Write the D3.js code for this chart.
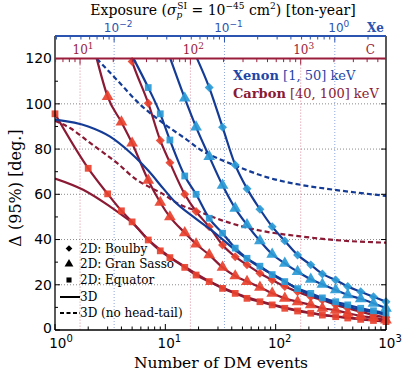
<!DOCTYPE html>
<html>
<head>
<meta charset="utf-8">
<script src="https://cdn.jsdelivr.net/npm/d3@7"></script>
<style>
  body { margin: 0; background: #fff; }
  text { font-family: "DejaVu Serif", serif; }
  .sans { font-family: "DejaVu Sans", sans-serif; }
</style>
</head>
<body>
<div id="chart"></div>
<script>
// marker positions (number of DM events) and read-off angles
const xeBoulbyN   = [19.4, 25, 33, 43, 55, 72, 93, 121, 158, 208, 265, 350, 450, 590, 770, 1000];
const xeBoulbyDeg = [120, 107.2, 89.7, 73, 62.5, 53.4, 45.7, 39.4, 33.2, 28.8, 24.8, 22.1, 19.2, 16.9, 14.7, 12.5];
const xeGranN     = [11.1, 15, 19, 25, 33, 43, 55, 72, 93, 121, 158, 208, 265, 350, 450, 590, 770, 1000];
const xeGranDeg   = [120, 102.5, 89.7, 76.7, 64, 53.8, 46.5, 39.4, 33.5, 29.5, 25.8, 22.4, 20.2, 17.7, 15.5, 13.8, 11.8, 9.6];
const xeEquN      = [5.15, 7, 9, 11, 15, 19, 25, 33, 43, 55, 72, 93, 121, 158, 208, 265, 350, 450, 590, 770, 1000];
const xeEquDeg    = [120, 107.2, 95.6, 84, 68.1, 60, 49.4, 42.8, 36.2, 31.7, 28.2, 24.5, 21.4, 18.3, 16.2, 14.2, 12.5, 11.1, 9.6, 8.5, 7.5];
const xe3dN       = [1, 2, 3.16, 4.8, 6, 7, 9.6, 12, 18, 25.6, 48, 73, 104, 168, 265, 450, 1000];
const xe3dDeg     = [93, 90, 85.5, 78.5, 74, 70.5, 62.5, 57, 50, 44.5, 33.5, 27.5, 23.5, 17.5, 13.6, 10.3, 6.8];
const xeNoHtN     = [2.39, 3.64, 5.94, 9.6, 15.7, 20.9, 25.6, 41.6, 84, 168, 340, 1000];
const xeNoHtDeg   = [120, 110.6, 99.6, 91.4, 84.1, 79.6, 77.4, 73, 67.5, 64.2, 62, 59.3];

const cBoulbyN    = [4.9, 5, 7, 9, 11, 15, 19, 25, 33, 43, 55, 72, 93, 121, 158, 208, 265, 350, 450, 590, 770, 1000];
const cBoulbyDeg  = [120, 118.7, 100.3, 83.8, 74, 60, 52.4, 45.6, 37.6, 32.4, 28.8, 25.1, 22.1, 19.2, 16.9, 14.7, 13.3, 11.1, 9.6, 8.1, 6.6, 5.6];
const cGranN      = [2.39, 3, 4, 5, 7, 9, 11, 15, 19, 25, 33, 43, 55, 72, 93, 121, 158, 208, 265, 350, 450, 590, 770, 1000];
const cGranDeg    = [120, 103.2, 91.9, 82.6, 66.2, 56.4, 50, 43, 38, 33.2, 27.7, 23.9, 21.4, 18.9, 16.2, 14, 12.5, 11.1, 9.6, 8.8, 7.4, 6.2, 5.5, 4.4];
const cEquN       = [1, 2, 3, 4, 5, 7, 9, 11, 15, 19, 25, 33, 43, 55, 72, 93, 121, 158, 208, 265, 350, 450, 590, 770, 1000];
const cEquDeg     = [95.6, 71.5, 60.2, 52.7, 47.8, 39.8, 35, 32, 27.7, 24.3, 21.4, 18.4, 16.2, 14, 12.5, 11.1, 9.6, 8.4, 7.4, 6.6, 5.9, 5.3, 4.7, 4.2, 3.7];
const c3dN        = [1, 1.8, 3, 4, 5, 7, 11, 15, 25, 43, 72, 121, 208, 350, 590, 1000];
const c3dDeg      = [67, 62, 55.3, 51, 47.5, 40, 32.3, 28, 21.6, 16.4, 12.8, 9.9, 7.6, 6, 4.9, 4.1];
const cNoHtN      = [1, 1.37, 2.08, 3.64, 5.5, 7.3, 9, 13.7, 20, 31.6, 73.5, 168, 340, 1000];
const cNoHtDeg    = [92.5, 89.3, 82.7, 73.9, 66.4, 63, 60.8, 55.3, 52.4, 48.7, 43.9, 41.4, 39.8, 38.6];

const yTicks = [0, 20, 40, 60, 80, 100, 120];
const legendItems = ["2D: Boulby", "2D: Gran Sasso", "2D: Equator", "3D", "3D (no head-tail)"];

const W = 407, H = 382;
const mLeft = 55, mRight = 386, mTop = 36, mBottom = 330;

const xeLine = "#143c96", xeMark = "#2a9ad6";
const cLine = "#8b1a34", cMark = "#e8412e";
const xeText = "#2b53b0", cText = "#9a1d3c";

const svg = d3.select("#chart").append("svg")
  .attr("width", W).attr("height", H);

const x = d3.scaleLog().domain([1, 1000]).range([mLeft, mRight]);
const y = d3.scaleLinear().domain([0, 130]).range([mBottom, mTop]);

// exposure axes (ton-year) for xenon and carbon
const xeK = Math.pow(10, -2.536), cK = Math.pow(10, 0.773);
const xXe = d3.scaleLog().domain([xeK, 1000 * xeK]).range([mLeft, mRight]);
const xC  = d3.scaleLog().domain([cK, 1000 * cK]).range([mLeft, mRight]);

svg.append("defs").append("clipPath").attr("id", "clip")
  .append("rect").attr("x", mLeft).attr("y", y(120)).attr("width", mRight - mLeft).attr("height", mBottom - y(120));

// grid
const grid = svg.append("g");
grid.selectAll(".hg").data([20, 40, 60, 80, 100]).join("line")
  .attr("x1", mLeft).attr("x2", mRight)
  .attr("y1", d => y(d)).attr("y2", d => y(d))
  .attr("stroke", "#8a8a8a").attr("stroke-width", 1).attr("stroke-dasharray", "1,2");
grid.selectAll(".cg").data([10, 100, 1000]).join("line")
  .attr("x1", d => xC(d)).attr("x2", d => xC(d))
  .attr("y1", y(120)).attr("y2", mBottom)
  .attr("stroke", "#d88a9c").attr("stroke-width", 1).attr("stroke-dasharray", "1,2");
grid.selectAll(".xg").data([0.01, 0.1, 1]).join("line")
  .attr("x1", d => xXe(d)).attr("x2", d => xXe(d))
  .attr("y1", mTop).attr("y2", mBottom)
  .attr("stroke", "#8ea6dc").attr("stroke-width", 1).attr("stroke-dasharray", "1,2");

// series
const series = [
  { N: cNoHtN, deg: cNoHtDeg, line: cLine, dash: "5,3" },
  { N: c3dN, deg: c3dDeg, line: cLine },
  { N: cEquN, deg: cEquDeg, line: cLine, mark: cMark, sym: "square" },
  { N: cGranN, deg: cGranDeg, line: cLine, mark: cMark, sym: "triangle" },
  { N: cBoulbyN, deg: cBoulbyDeg, line: cLine, mark: cMark, sym: "diamond" },
  { N: xeNoHtN, deg: xeNoHtDeg, line: xeLine, dash: "5,3" },
  { N: xe3dN, deg: xe3dDeg, line: xeLine },
  { N: xeEquN, deg: xeEquDeg, line: xeLine, mark: xeMark, sym: "square" },
  { N: xeGranN, deg: xeGranDeg, line: xeLine, mark: xeMark, sym: "triangle" },
  { N: xeBoulbyN, deg: xeBoulbyDeg, line: xeLine, mark: xeMark, sym: "diamond" }
];

const symPath = {
  square: d3.symbol(d3.symbolSquare, 46)(),
  triangle: d3.symbol(d3.symbolTriangle, 60)(),
  diamond: d3.symbol(d3.symbolSquare, 40)()
};

const lineGen = d3.line()
  .x(d => x(d[0])).y(d => y(d[1]))
  .curve(d3.curveMonotoneX);

series.forEach(s => {
  const pts = s.N.map((n, i) => [n, s.deg[i]]);
  svg.append("path")
    .attr("clip-path", "url(#clip)")
    .attr("d", lineGen(pts))
    .attr("fill", "none")
    .attr("stroke", s.line)
    .attr("stroke-width", 2.2)
    .attr("stroke-dasharray", s.dash || null);
  if (s.sym) {
    svg.append("g").selectAll("path")
      .data(pts.filter(p => p[1] < 120))
      .join("path")
      .attr("d", symPath[s.sym])
      .attr("transform", d => `translate(${x(d[0])},${y(d[1])})` + (s.sym === "diamond" ? " rotate(45)" : ""))
      .attr("fill", s.mark)
      .attr("fill-opacity", 0.92);
  }
});

// frame
const frame = svg.append("g").attr("stroke", "#000").attr("stroke-width", 1.3);
frame.append("line").attr("x1", mLeft).attr("x2", mLeft).attr("y1", mTop).attr("y2", mBottom);
frame.append("line").attr("x1", mRight).attr("x2", mRight).attr("y1", mTop).attr("y2", mBottom);
frame.append("line").attr("x1", mLeft).attr("x2", mRight).attr("y1", mBottom).attr("y2", mBottom);

// y ticks
svg.append("g").selectAll("line").data(d3.range(0, 121, 10)).join("line")
  .attr("x1", mLeft).attr("x2", d => mLeft + (d % 20 === 0 ? 5 : 3))
  .attr("y1", d => y(d)).attr("y2", d => y(d))
  .attr("stroke", "#000");
svg.append("g").selectAll("line").data(yTicks).join("line")
  .attr("x1", mRight).attr("x2", mRight - 5)
  .attr("y1", d => y(d)).attr("y2", d => y(d))
  .attr("stroke", "#000");
svg.append("g").selectAll("text").data(yTicks).join("text")
  .attr("class", "sans")
  .attr("x", mLeft - 3).attr("y", d => y(d) - (d === 0 ? 2 : 0)).attr("dy", "0.34em")
  .attr("text-anchor", "end").attr("font-size", 14)
  .text(d => d);

// bottom axis
const minorTicks = (sc) => sc.ticks().filter(t => t >= sc.domain()[0] && t <= sc.domain()[1]);
svg.append("g").selectAll("line").data(minorTicks(x)).join("line")
  .attr("x1", d => x(d)).attr("x2", d => x(d))
  .attr("y1", mBottom).attr("y2", d => mBottom - (Math.abs(Math.log10(d) % 1) < 1e-6 ? 6 : 3.5))
  .attr("stroke", "#000");
const powLabel = (g, base, exp, size, supSize) => {
  g.append("tspan").text(base);
  g.append("tspan").attr("dy", -size * 0.42).attr("font-size", supSize).text(exp);
};
[1, 10, 100, 1000].forEach(v => {
  const t = svg.append("text").attr("class", "sans")
    .attr("x", x(v) + (v === 1 ? 6 : 4)).attr("y", 348).attr("text-anchor", "middle").attr("font-size", 13.5);
  powLabel(t, "10", Math.round(Math.log10(v)), 13.5, 10);
});

// top xenon axis
svg.append("line").attr("x1", mLeft).attr("x2", mRight).attr("y1", mTop).attr("y2", mTop)
  .attr("stroke", xeText).attr("stroke-width", 2);
svg.append("g").selectAll("line").data(minorTicks(xXe)).join("line")
  .attr("x1", d => xXe(d)).attr("x2", d => xXe(d))
  .attr("y1", mTop).attr("y2", d => mTop + ([0.01, 0.1, 1].some(v => Math.abs(v - d) < 1e-9) ? 6 : 3.5))
  .attr("stroke", xeText);
[[0.01, "\u22122"], [0.1, "\u22121"], [1, "0"]].forEach(([v, e]) => {
  const t = svg.append("text").attr("class", "sans").attr("fill", xeText)
    .attr("x", xXe(v) + 4).attr("y", 32).attr("text-anchor", "middle").attr("font-size", 12);
  powLabel(t, "10", e, 12, 9);
});
svg.append("text").attr("x", 384).attr("y", 32).attr("text-anchor", "end")
  .attr("font-size", 12).attr("font-weight", "bold").attr("fill", xeText).text("Xe");

// carbon axis on the 120 line
svg.append("line").attr("x1", mLeft).attr("x2", mRight).attr("y1", y(120)).attr("y2", y(120))
  .attr("stroke", cText).attr("stroke-width", 2);
svg.append("g").selectAll("line").data(minorTicks(xC)).join("line")
  .attr("x1", d => xC(d)).attr("x2", d => xC(d))
  .attr("y1", y(120)).attr("y2", d => y(120) + ([10, 100, 1000].some(v => Math.abs(v - d) < 1e-6) ? 6 : 3.5))
  .attr("stroke", cText);
[[10, "1"], [100, "2"], [1000, "3"]].forEach(([v, e]) => {
  const t = svg.append("text").attr("fill", cText)
    .attr("x", xC(v) + 3).attr("y", 54).attr("text-anchor", "middle").attr("font-size", 12);
  powLabel(t, "10", e, 12, 9);
});
svg.append("text").attr("x", 375).attr("y", 54).attr("text-anchor", "end")
  .attr("font-size", 12).attr("fill", cText).text("C");

// titles
const title = svg.append("text").attr("x", 223).attr("y", 15).attr("text-anchor", "middle").attr("font-size", 14);
title.append("tspan").text("Exposure (");
title.append("tspan").attr("font-style", "italic").text("\u03c3");
title.append("tspan").attr("font-size", 9).attr("font-style", "italic").attr("dy", 3).text("p");
title.append("tspan").attr("font-size", 9).attr("dy", -9).attr("dx", -5).text("SI");
title.append("tspan").attr("dy", 6).text(" = 10");
title.append("tspan").attr("font-size", 9).attr("dy", -6).text("\u221245");
title.append("tspan").attr("dy", 6).text(" cm");
title.append("tspan").attr("font-size", 9).attr("dy", -6).text("2");
title.append("tspan").attr("dy", 6).text(") [ton-year]");

svg.append("text").attr("x", 221).attr("y", 368).attr("text-anchor", "middle")
  .attr("font-size", 15.5).text("Number of DM events");
svg.append("text").attr("transform", "translate(21,188) rotate(-90)")
  .attr("text-anchor", "middle").attr("font-size", 16).text("\u0394 (95%) [deg.]");

// target legend
const lx = svg.append("text").attr("x", 233).attr("y", 80).attr("font-size", 13).attr("fill", "#1f47a6");
lx.append("tspan").attr("font-weight", "bold").text("Xenon");
lx.append("tspan").text(" [1, 50] keV");
const lc = svg.append("text").attr("x", 233).attr("y", 98).attr("font-size", 13).attr("fill", cLine);
lc.append("tspan").attr("font-weight", "bold").text("Carbon");
lc.append("tspan").text(" [40, 100] keV");

// symbol legend
const legY = [248.5, 264, 280, 297, 313];
const leg = svg.append("g");
legendItems.forEach((label, i) => {
  const yy = legY[i];
  if (i < 3) {
    const sym = ["diamond", "triangle", "square"][i];
    leg.append("path").attr("d", symPath[sym])
      .attr("transform", `translate(69,${yy}) scale(0.75)` + (sym === "diamond" ? " rotate(45)" : ""))
      .attr("fill", "#000");
  } else {
    leg.append("line").attr("x1", 60).attr("x2", 80).attr("y1", yy).attr("y2", yy)
      .attr("stroke", "#000").attr("stroke-width", 2)
      .attr("stroke-dasharray", i === 4 ? "4,2.5" : null);
  }
  leg.append("text").attr("x", 80).attr("y", yy + 4.2).attr("font-size", 12).text(label);
});
</script>
</body>
</html>
